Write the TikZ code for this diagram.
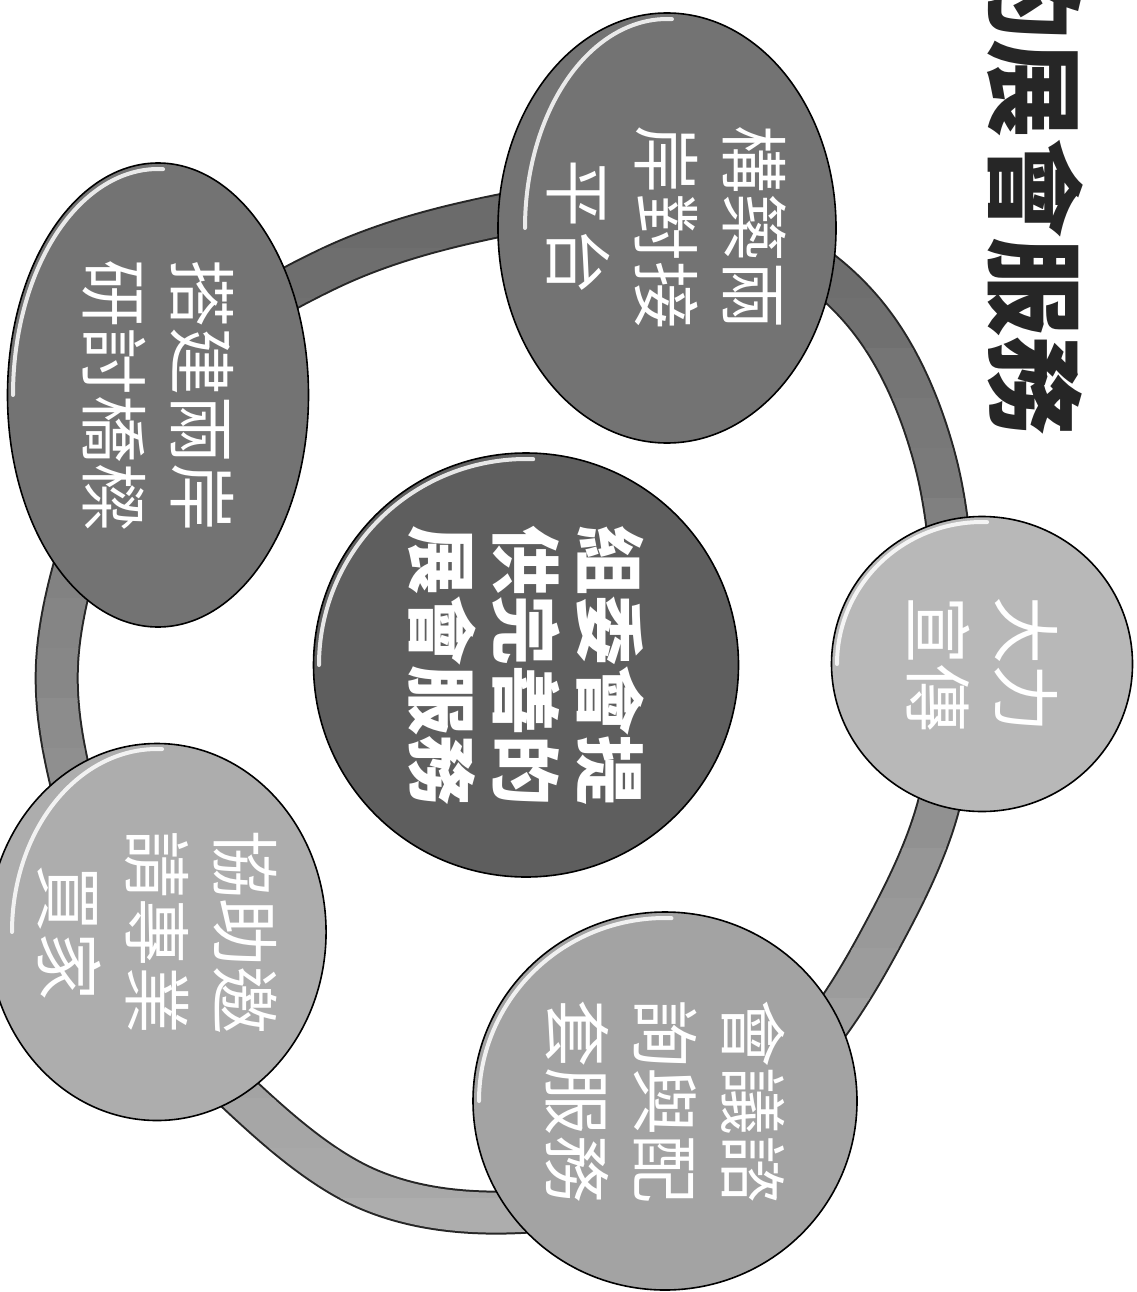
\documentclass[tikz,border=0pt]{standalone}
\usepackage{fontspec}
\newfontfamily\cjk{Noto Sans CJK TC}
\usetikzlibrary{shapes, positioning, calc}

\tikzset{
  bubble/.style={ellipse, draw=black, line width=1.6pt, inner sep=0pt, rotate=-90, align=center, text=white, font=\cjk\fontsize{68}{88}\selectfont},
  darkbubble/.style={bubble, fill=black!55},
  lightbubble/.style={bubble, fill=black!32},
  gloss/.style={draw=white, line width=4pt, line cap=round, opacity=0.85},
}
\def\ringpath{plot[smooth cycle, tension=0.6] coordinates {(58,650) (78,810) (140,975) (240,1095) (370,1190) (520,1212) (680,1175) (800,1060) (880,940) (940,800) (955,640) (935,460) (870,320) (760,235) (610,205) (470,222) (330,268) (200,350) (110,470)}}

\begin{document}
\begin{tikzpicture}[x=1pt, y=-1pt]
	\useasboundingbox (0,0) rectangle (1136,1292);

	\draw[line width=44pt, black!85] \ringpath;
	\foreach \i in {0,...,26} {
		\pgfmathtruncatemacro\g{64-1.3*\i}
		\begin{scope}
			\clip (0,\i*50-2) rectangle (1136,\i*50+50);
			\draw[line width=40pt, black!\g] \ringpath;
		\end{scope}
	}

	\node[darkbubble, minimum width=430pt, minimum height=295pt] (platform) at (667,228) {構築兩\\岸對接\\平台};
	\node[darkbubble, minimum width=464pt, minimum height=301pt] (bridge) at (158,395) {搭建兩岸\\研討橋樑};
	\node[lightbubble, fill=black!28, minimum width=295pt, minimum height=301pt] (promo) at (982,664) {大力\\宣傳};
	\node[lightbubble, minimum width=377pt, minimum height=300pt] (buyers) at (157,932) {協助邀\\請專業\\買家};
	\node[lightbubble, fill=black!36, minimum width=378pt, minimum height=384pt] (meeting) at (665,1101) {會議諮\\詢與配\\套服務};
	\node[bubble, fill=black!63, font=\cjk\bfseries\fontsize{70}{84}\selectfont, minimum width=424pt, minimum height=425pt] (core) at (526,665) {組委會提\\供完善的\\展會服務};

	\foreach \n/\rx/\ry in {platform/142/209, bridge/145/226, promo/145/142, buyers/145/183, meeting/186/183, core/207/206}
		\draw[gloss] (\n.center) ++(-\rx,0) arc[start angle=180, end angle=272, x radius=\rx, y radius=\ry];

	\node[rotate=-90, inner sep=0pt, text=black!85, font=\cjk\bfseries\fontsize{99}{99}\selectfont] (title) at (1035,188) {的展會服務};
\end{tikzpicture}
\end{document}
